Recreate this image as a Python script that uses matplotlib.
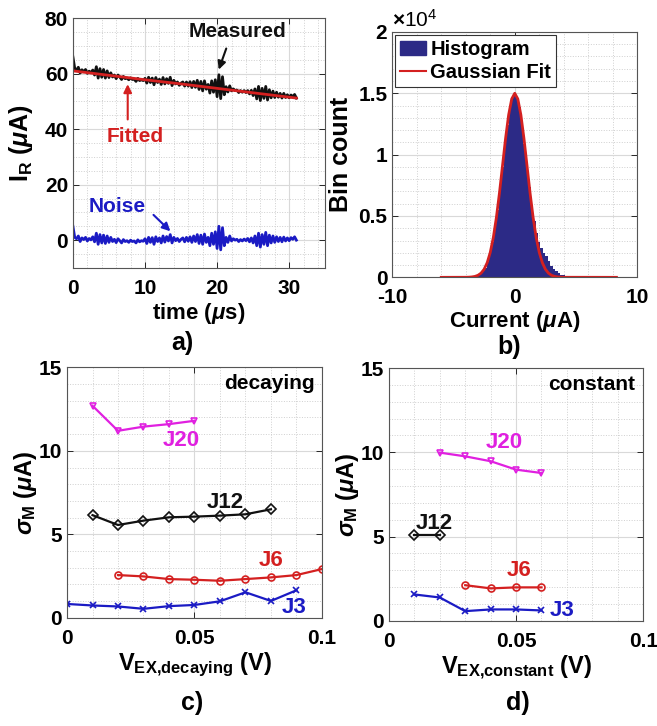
import numpy as np
import matplotlib
matplotlib.use('Agg')
import matplotlib.pyplot as plt
from matplotlib.lines import Line2D
from matplotlib.patches import Patch
from matplotlib.ticker import MultipleLocator, FuncFormatter

plt.rcParams['font.family'] = ['Liberation Sans', 'DejaVu Sans']
plt.rcParams['font.weight'] = 'bold'
plt.rcParams['axes.unicode_minus'] = False
plt.rcParams['mathtext.fontset'] = 'custom'
plt.rcParams['mathtext.rm'] = 'Liberation Sans:bold'
plt.rcParams['mathtext.bf'] = 'Liberation Sans:bold'
plt.rcParams['mathtext.it'] = 'Liberation Sans:italic'

BLACK = '#111111'
RED = '#D42020'
BLUE = '#1B1BC4'
MAGENTA = '#E020E0'
NAVY = '#2C2A86'

# ---- panel a: decaying current trace ----
t_step = 0.25
measured = [66.0, 61.9, 61.3, 62.3, 60.2, 61.4, 60.7, 61.5, 60.1, 60.9,
            60.3, 61.3, 59.5, 62.5, 58.4, 61.8, 58.7, 61.5, 58.4, 61.0,
            58.6, 60.3, 58.8, 59.5, 58.2, 59.5, 58.8, 57.9, 59.0, 58.2,
            58.4, 57.8, 58.5, 57.9, 58.0, 57.2, 58.3, 57.5, 57.8, 57.5,
            58.3, 56.6, 58.7, 56.8, 58.4, 56.0, 58.6, 56.8, 58.0, 56.1,
            58.6, 56.3, 58.2, 56.5, 58.7, 55.7, 57.6, 56.3, 57.0, 55.8,
            56.6, 57.0, 55.5, 57.0, 55.5, 57.1, 55.0, 57.2, 55.1, 57.6,
            54.3, 57.2, 53.8, 57.4, 54.4, 56.1, 53.0, 57.4, 53.3, 57.8,
            51.7, 59.6, 51.0, 58.9, 52.4, 55.3, 53.4, 55.6, 53.8, 54.5,
            53.9, 54.1, 53.2, 53.9, 53.3, 53.9, 53.2, 53.9, 52.7, 54.0,
            52.1, 54.5, 50.9, 55.4, 50.3, 54.7, 51.1, 55.4, 50.5, 54.2,
            51.3, 53.7, 51.4, 53.3, 51.5, 52.9, 51.2, 52.9, 51.4, 52.4,
            51.3, 52.3, 51.7, 52.5, 51.2]
noise = [5.0, 1.0, 0.5, 1.5, -0.5, 0.8, 0.2, 1.0, -0.3, 0.6,
         0.1, 1.2, -0.6, 2.5, -1.5, 2.0, -1.0, 1.8, -1.2, 1.5,
         -0.8, 1.0, -0.5, 0.3, -0.9, 0.5, -0.2, -1.0, 0.2, -0.5,
         -0.2, -0.8, 0.0, -0.5, -0.3, -1.0, 0.1, -0.6, -0.2, -0.4,
         0.5, -1.2, 1.0, -0.8, 0.9, -1.5, 1.2, -0.5, 0.8, -1.0,
         1.5, -0.7, 1.3, -0.3, 2.0, -1.0, 1.0, -0.2, 0.6, -0.5,
         0.3, 0.8, -0.6, 1.0, -0.4, 1.2, -0.8, 1.5, -0.5, 2.0,
         -1.2, 1.8, -1.5, 2.2, -0.8, 1.0, -2.0, 2.5, -1.5, 3.0,
         -3.0, 5.0, -3.5, 4.5, -2.0, 1.0, -0.8, 1.5, -0.3, 0.5,
         0.0, 0.3, -0.5, 0.2, -0.3, 0.4, -0.2, 0.6, -0.6, 0.8,
         -1.0, 1.5, -2.0, 2.5, -2.5, 2.0, -1.5, 2.8, -2.0, 1.8,
         -1.0, 1.5, -0.8, 1.2, -0.5, 1.0, -0.6, 1.1, -0.3, 0.8,
         -0.2, 0.9, 0.3, 1.2, 0.0]
fit_t = [0, 5, 10, 15, 20, 25, 31]
fit_i = [61.0, 59.4, 57.8, 56.3, 54.7, 53.1, 51.2]

# ---- panel b: histogram of noise ----
bin_centers = [-3.4, -3.2, -3.0, -2.8, -2.6, -2.4, -2.2, -2.0, -1.8, -1.6,
               -1.4, -1.2, -1.0, -0.8, -0.6, -0.4, -0.2, 0.0, 0.2, 0.4,
               0.6, 0.8, 1.0, 1.2, 1.4, 1.6, 1.8, 2.0, 2.2, 2.4,
               2.6, 2.8, 3.0, 3.2, 3.4, 3.6, 3.8, 4.0, 4.2, 4.4, 4.6, 4.8]
bin_counts = [40, 80, 150, 280, 480, 800, 1280, 1950, 2850, 4050,
              5500, 7200, 9000, 10800, 12450, 13800, 14700, 15000, 14700, 13850,
              12500, 10900, 9100, 7400, 5900, 4600, 3600, 2900, 2400, 2000,
              1700, 1300, 950, 700, 480, 330, 230, 150, 90, 50, 25, 10]
gfit_x = [-6.0, -4.0, -3.75, -3.5, -3.25, -3.0, -2.75, -2.5, -2.25, -2.0, -1.75,
          -1.5, -1.25, -1.0, -0.75, -0.5, -0.25, 0.0, 0.25, 0.5, 0.75,
          1.0, 1.25, 1.5, 1.75, 2.0, 2.25, 2.5, 2.75, 3.0, 3.25,
          3.5, 3.75, 4.0, 8.3]
gfit_y = [0, 5, 13, 33, 76, 167, 342, 659, 1194, 2030, 3245,
          4870, 6867, 9098, 11322, 13238, 14538, 15000, 14538, 13238, 11322,
          9098, 6867, 4870, 3245, 2030, 1194, 659, 342, 167, 76,
          33, 13, 5, 0]

# ---- panels c, d: sigma_M vs excitation voltage ----
dec_j20_v = [0.01, 0.02, 0.03, 0.04, 0.05]
dec_j20 = [12.7, 11.2, 11.45, 11.6, 11.8]
dec_j12_v = [0.01, 0.02, 0.03, 0.04, 0.05, 0.06, 0.07, 0.08]
dec_j12 = [6.15, 5.56, 5.82, 6.02, 6.06, 6.12, 6.2, 6.5]
dec_j6_v = [0.02, 0.03, 0.04, 0.05, 0.06, 0.07, 0.08, 0.09, 0.10]
dec_j6 = [2.56, 2.48, 2.32, 2.28, 2.22, 2.32, 2.42, 2.56, 2.92]
dec_j3_v = [0.0, 0.01, 0.02, 0.03, 0.04, 0.05, 0.06, 0.07, 0.08, 0.09]
dec_j3 = [0.83, 0.74, 0.68, 0.54, 0.7, 0.77, 0.99, 1.53, 1.01, 1.65]

con_j20_v = [0.02, 0.03, 0.04, 0.05, 0.06]
con_j20 = [9.98, 9.76, 9.47, 8.97, 8.77]
con_j12_v = [0.01, 0.02]
con_j12 = [5.08, 5.08]
con_j6_v = [0.03, 0.04, 0.05, 0.06]
con_j6 = [2.11, 1.92, 1.98, 1.98]
con_j3_v = [0.01, 0.02, 0.03, 0.04, 0.05, 0.06]
con_j3 = [1.56, 1.38, 0.57, 0.67, 0.67, 0.61]

TICK_FS = 15
LABEL_FS = 16


def style_axes(ax, xminor, yminor, xpad=8):
    ax.xaxis.set_minor_locator(MultipleLocator(xminor))
    ax.yaxis.set_minor_locator(MultipleLocator(yminor))
    ax.grid(True, which='major', color='#D9D9D9', lw=0.8)
    ax.grid(True, which='minor', color='#CFCFCF', lw=0.7, ls=':')
    ax.set_axisbelow(True)
    ax.tick_params(which='both', direction='in', top=True, right=True,
                   labelsize=TICK_FS, colors='#262626', labelcolor='black')
    ax.tick_params(which='major', length=4, width=0.7)
    ax.tick_params(which='minor', length=0)
    ax.tick_params(axis='x', which='major', pad=xpad)
    for s in ax.spines.values():
        s.set_color('#555555')
        s.set_linewidth(0.8)
    for lab in ax.get_xticklabels() + ax.get_yticklabels():
        lab.set_fontweight('bold')


fig = plt.figure(figsize=(6.57, 7.26), dpi=100)

# panel a
ax = fig.add_axes([0.111, 0.631, 0.384, 0.344])
t = np.arange(len(measured)) * t_step
ax.plot(t, measured, color=BLACK, lw=2)
ax.plot(fit_t, fit_i, color=RED, lw=2)
ax.plot(t, noise, color=BLUE, lw=2)
ax.set_xlim(0, 35)
ax.set_ylim(-10, 80)
ax.set_xticks([0, 10, 20, 30])
ax.set_yticks([0, 20, 40, 60, 80])
style_axes(ax, 2, 5)
ax.set_xlabel(r'time ($\mu$s)', fontsize=LABEL_FS, fontweight='bold', labelpad=2)
ax.set_ylabel(r'I$_\mathrm{R}$ ($\mu$A)', fontsize=LABEL_FS + 2, fontweight='bold', labelpad=7)
arrow = dict(arrowstyle='-|>', lw=1.5, mutation_scale=12)
ax.text(22.8, 75.2, 'Measured', ha='center', va='center', fontsize=15, fontweight='bold', color=BLACK)
ax.annotate('', xy=(20.1, 60.5), xytext=(21.4, 70), arrowprops=dict(arrow, color=BLACK))
ax.text(8.6, 37.5, 'Fitted', ha='center', va='center', fontsize=15, fontweight='bold', color=RED)
ax.annotate('', xy=(7.6, 57.2), xytext=(7.6, 42.5), arrowprops=dict(arrow, color=RED))
ax.text(6.1, 12.2, 'Noise', ha='center', va='center', fontsize=15, fontweight='bold', color=BLUE)
ax.annotate('', xy=(13.8, 2.5), xytext=(10.9, 9.8), arrowprops=dict(arrow, color=BLUE))

# panel b
ax = fig.add_axes([0.597, 0.618, 0.373, 0.338])
ax.bar(bin_centers, bin_counts, width=0.2, color=NAVY, edgecolor='none')
ax.plot(gfit_x, gfit_y, color=RED, lw=2)
ax.set_xlim(-10, 10)
ax.set_ylim(0, 20000)
ax.set_xticks([-10, 0, 10])
ax.set_yticks([0, 5000, 10000, 15000, 20000])
ax.yaxis.set_major_formatter(FuncFormatter(lambda v, p: '%g' % (v / 1e4)))
style_axes(ax, 2, 1000, xpad=8)
ax.text(0.0, 1.005, r'$\times$10$^\mathregular{4}$', transform=ax.transAxes,
        ha='left', va='bottom', fontsize=15, fontweight='normal')
ax.set_xlabel(r'Current ($\mu$A)', fontsize=LABEL_FS, fontweight='bold', labelpad=1)
ax.set_ylabel('Bin count', fontsize=LABEL_FS + 2, fontweight='bold', labelpad=4)
handles = [Patch(facecolor=NAVY, edgecolor=NAVY, label='Histogram'),
           Line2D([0], [0], color=RED, lw=1.5, label='Gaussian Fit')]
leg = ax.legend(handles=handles, loc='upper left', fancybox=False, framealpha=1,
                edgecolor='#333333', prop={'weight': 'bold', 'size': 14.5},
                handlelength=1.3, handletextpad=0.2, borderpad=0.25,
                labelspacing=0.2, borderaxespad=0.15)
leg.get_frame().set_linewidth(0.8)


def sigma_panel(rect, series, labels, corner, xlab):
    ax = fig.add_axes(rect)
    for v, s, c, m in series:
        ax.plot(v, s, color=c, lw=1.6, marker=m, ms=5, mfc='none', mec=c, mew=1.2)
    for x, y, txt, c in labels:
        ax.text(x, y, txt, ha='center', va='center', fontsize=16, fontweight='bold', color=c)
    ax.text(0.097, 14.05, corner, ha='right', va='center', fontsize=15, fontweight='bold')
    ax.set_xlim(0, 0.1)
    ax.set_ylim(0, 15)
    ax.set_xticks([0, 0.05, 0.1])
    ax.set_yticks([0, 5, 10, 15])
    ax.xaxis.set_major_formatter(FuncFormatter(lambda v, p: '%g' % round(v, 3)))
    style_axes(ax, 0.01, 1)
    ax.set_xlabel(xlab, fontsize=LABEL_FS + 1, fontweight='bold', labelpad=2)
    ax.set_ylabel(r'$\sigma_\mathrm{M}$ ($\mu$A)', fontsize=LABEL_FS + 1, fontweight='bold', labelpad=0)
    return ax


sigma_panel([0.102, 0.149, 0.388, 0.345],
            [(dec_j20_v, dec_j20, MAGENTA, 'v'), (dec_j12_v, dec_j12, BLACK, 'D'),
             (dec_j6_v, dec_j6, RED, 'o'), (dec_j3_v, dec_j3, BLUE, 'x')],
            [(0.045, 10.6, 'J20', MAGENTA), (0.062, 6.9, 'J12', BLACK),
             (0.080, 3.45, 'J6', RED), (0.089, 0.6, 'J3', BLUE)],
            'decaying', r'V$_\mathrm{EX{,}decaying}$ (V)')
sigma_panel([0.592, 0.145, 0.387, 0.348],
            [(con_j20_v, con_j20, MAGENTA, 'v'), (con_j12_v, con_j12, BLACK, 'D'),
             (con_j6_v, con_j6, RED, 'o'), (con_j3_v, con_j3, BLUE, 'x')],
            [(0.0455, 10.6, 'J20', MAGENTA), (0.018, 5.8, 'J12', BLACK),
             (0.051, 3.0, 'J6', RED), (0.068, 0.6, 'J3', BLUE)],
            'constant', r'V$_\mathrm{EX{,}constant}$ (V)')

fig.text(0.277, 0.527, 'a)', ha='center', va='center', fontsize=18, fontweight='bold')
fig.text(0.775, 0.522, 'b)', ha='center', va='center', fontsize=18, fontweight='bold')
fig.text(0.292, 0.032, 'c)', ha='center', va='center', fontsize=18, fontweight='bold')
fig.text(0.788, 0.032, 'd)', ha='center', va='center', fontsize=18, fontweight='bold')

fig.savefig('out.png', dpi=100)
